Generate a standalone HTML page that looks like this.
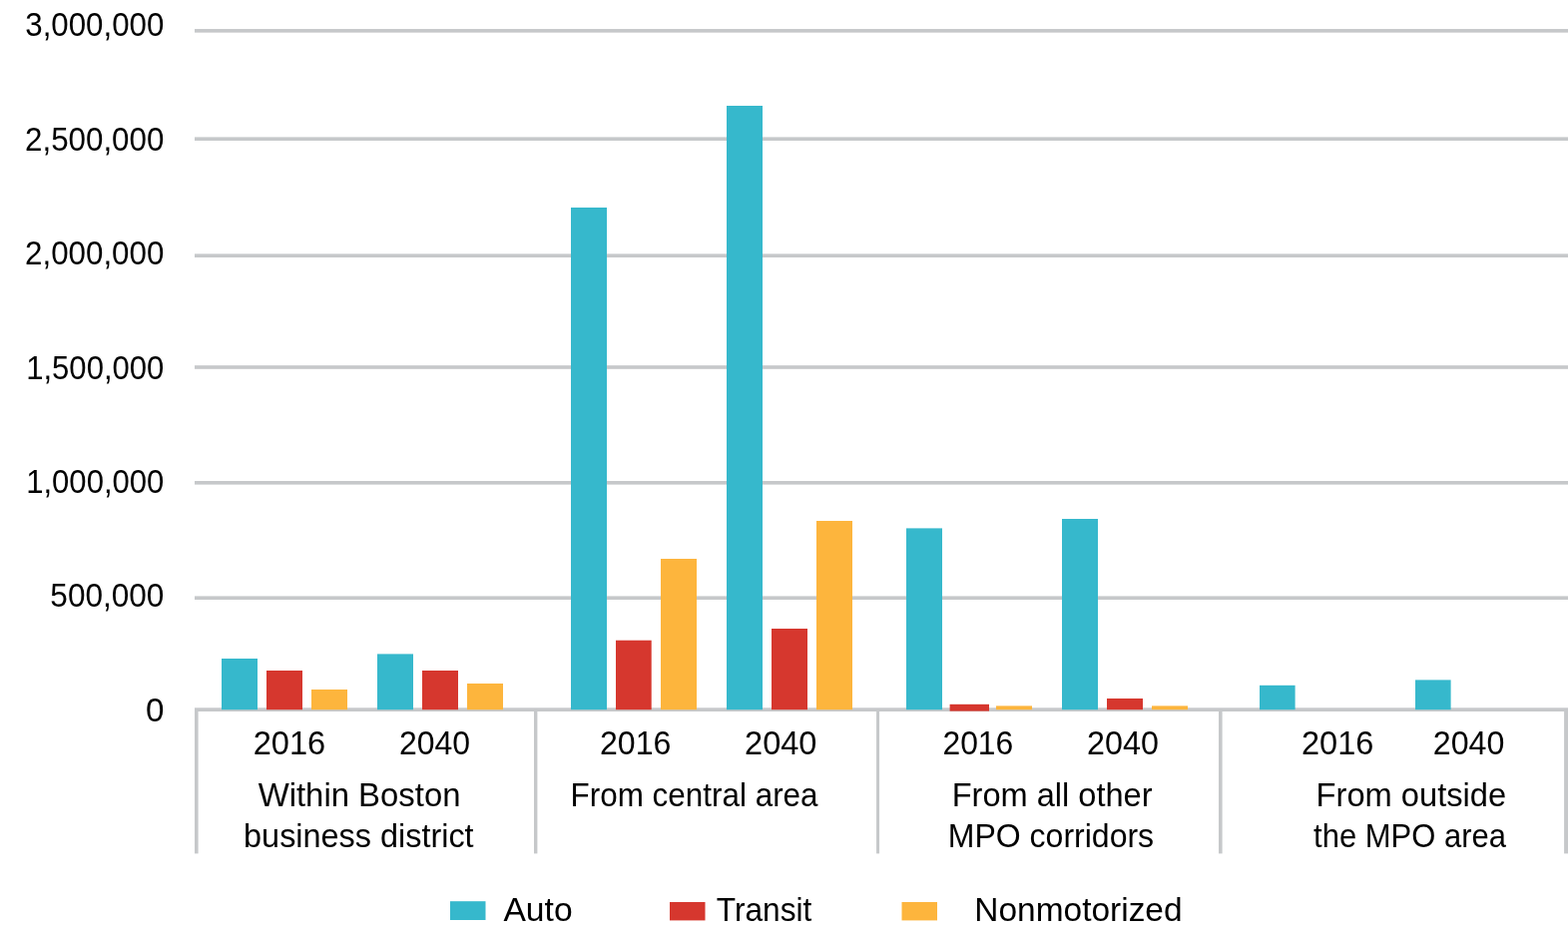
<!DOCTYPE html>
<html lang="en">
<head>
<meta charset="utf-8">
<title>Trips by mode and origin, 2016 and 2040</title>
<style>
html,body{margin:0;padding:0;background:#fff;}
body{width:1571px;height:935px;overflow:hidden;}
svg{display:block;}
text{font-family:"Liberation Sans",sans-serif;fill:#000000;}
</style>
</head>
<body>
<svg width="1571" height="935" viewBox="0 0 1571 935" role="img" aria-label="Bar chart of trips by mode">
<rect width="1571" height="935" fill="#ffffff"/>
<g fill="#c6c8ca">
<rect x="195" y="29.05" width="1376" height="3.6"/>
<rect x="195" y="137.4" width="1376" height="3.6"/>
<rect x="195" y="254.4" width="1376" height="3.6"/>
<rect x="195" y="366.2" width="1376" height="3.6"/>
<rect x="195" y="482" width="1376" height="3.6"/>
<rect x="195" y="597.4" width="1376" height="3.6"/>
<rect x="195" y="709.3" width="1376" height="3.7"/>
<rect x="195" y="711" width="3.6" height="144.4"/>
<rect x="535" y="711" width="3.4" height="144.4"/>
<rect x="878.05" y="711" width="3" height="144.4"/>
<rect x="1221" y="711" width="3.6" height="144.4"/>
<rect x="1567.1" y="711" width="3.9" height="144.4"/>
</g>
<g>
<rect x="222" y="660" width="36" height="51.2" fill="#36b8cc"/>
<rect x="267" y="672" width="36" height="39.2" fill="#d6372e"/>
<rect x="312" y="691" width="36" height="20.2" fill="#fdb53d"/>
<rect x="378" y="655.4" width="36" height="55.8" fill="#36b8cc"/>
<rect x="423" y="672" width="36" height="39.2" fill="#d6372e"/>
<rect x="468" y="685" width="36" height="26.2" fill="#fdb53d"/>
<rect x="572" y="208" width="36" height="503.2" fill="#36b8cc"/>
<rect x="617" y="641.7" width="35.7" height="69.5" fill="#d6372e"/>
<rect x="662" y="560" width="36" height="151.2" fill="#fdb53d"/>
<rect x="728" y="106" width="36" height="605.2" fill="#36b8cc"/>
<rect x="773" y="630" width="36" height="81.2" fill="#d6372e"/>
<rect x="818" y="522" width="36" height="189.2" fill="#fdb53d"/>
<rect x="908" y="529.4" width="36" height="181.8" fill="#36b8cc"/>
<rect x="951.6" y="705.8" width="39.4" height="6.8" fill="#d6372e"/>
<rect x="998" y="707.4" width="36" height="3.8" fill="#fdb53d"/>
<rect x="1064" y="520" width="36" height="191.2" fill="#36b8cc"/>
<rect x="1109" y="700" width="36" height="11.2" fill="#d6372e"/>
<rect x="1154" y="707.4" width="36" height="3.8" fill="#fdb53d"/>
<rect x="1262" y="686.8" width="35.6" height="24.4" fill="#36b8cc"/>
<rect x="1418" y="681.4" width="35.6" height="29.8" fill="#36b8cc"/>
<rect x="451" y="903.2" width="35.5" height="18.8" fill="#36b8cc"/>
<rect x="671" y="904" width="35.5" height="18.4" fill="#d6372e"/>
<rect x="903.5" y="904" width="35.5" height="18.4" fill="#fdb53d"/>
</g>
<g>
<text transform="translate(25.23 35.5) scale(0.9367 1)" font-size="33.4">3,000,000</text>
<text transform="translate(25.03 150.6) scale(0.9380 1)" font-size="33.4">2,500,000</text>
<text transform="translate(25.03 264.7) scale(0.9380 1)" font-size="33.4">2,000,000</text>
<text transform="translate(26.17 379.6) scale(0.9303 1)" font-size="33.4">1,500,000</text>
<text transform="translate(26.17 493.7) scale(0.9303 1)" font-size="33.4">1,000,000</text>
<text transform="translate(50.34 607.7) scale(0.9452 1)" font-size="33.4">500,000</text>
<text transform="translate(145.97 722.7) scale(0.9970 1)" font-size="33.4">0</text>
<text transform="translate(253.72 755.7) scale(0.9762 1)" font-size="33.4">2016</text>
<text transform="translate(399.9 755.7) scale(0.9578 1)" font-size="33.4">2040</text>
<text transform="translate(601 755.7) scale(0.9601 1)" font-size="33.4">2016</text>
<text transform="translate(746.07 755.7) scale(0.9746 1)" font-size="33.4">2040</text>
<text transform="translate(944.41 755.7) scale(0.9544 1)" font-size="33.4">2016</text>
<text transform="translate(1089.09 755.7) scale(0.9662 1)" font-size="33.4">2040</text>
<text transform="translate(1303.97 755.7) scale(0.9741 1)" font-size="33.4">2016</text>
<text transform="translate(1435.79 755.7) scale(0.9648 1)" font-size="33.4">2040</text>
<text transform="translate(258.64 807.6) scale(1.0087 1)" font-size="32.6">Within Boston</text>
<text transform="translate(244.09 849) scale(0.9939 1)" font-size="32.6">business district</text>
<text transform="translate(571.51 807.6) scale(0.9645 1)" font-size="32.6">From central area</text>
<text transform="translate(953.71 807.6) scale(0.9991 1)" font-size="32.6">From all other</text>
<text transform="translate(949.76 849) scale(0.9827 1)" font-size="32.6">MPO corridors</text>
<text transform="translate(1318.61 807.6) scale(1.0019 1)" font-size="32.6">From outside</text>
<text transform="translate(1316.04 849) scale(0.9509 1)" font-size="32.6">the MPO area</text>
<text transform="translate(504.42 922.6) scale(1.0319 1)" font-size="32.6">Auto</text>
<text transform="translate(717.79 922.6) scale(0.9715 1)" font-size="32.6">Transit</text>
<text transform="translate(976.34 922.6) scale(1.0267 1)" font-size="32.6">Nonmotorized</text>
</g>
</svg>
</body>
</html>
